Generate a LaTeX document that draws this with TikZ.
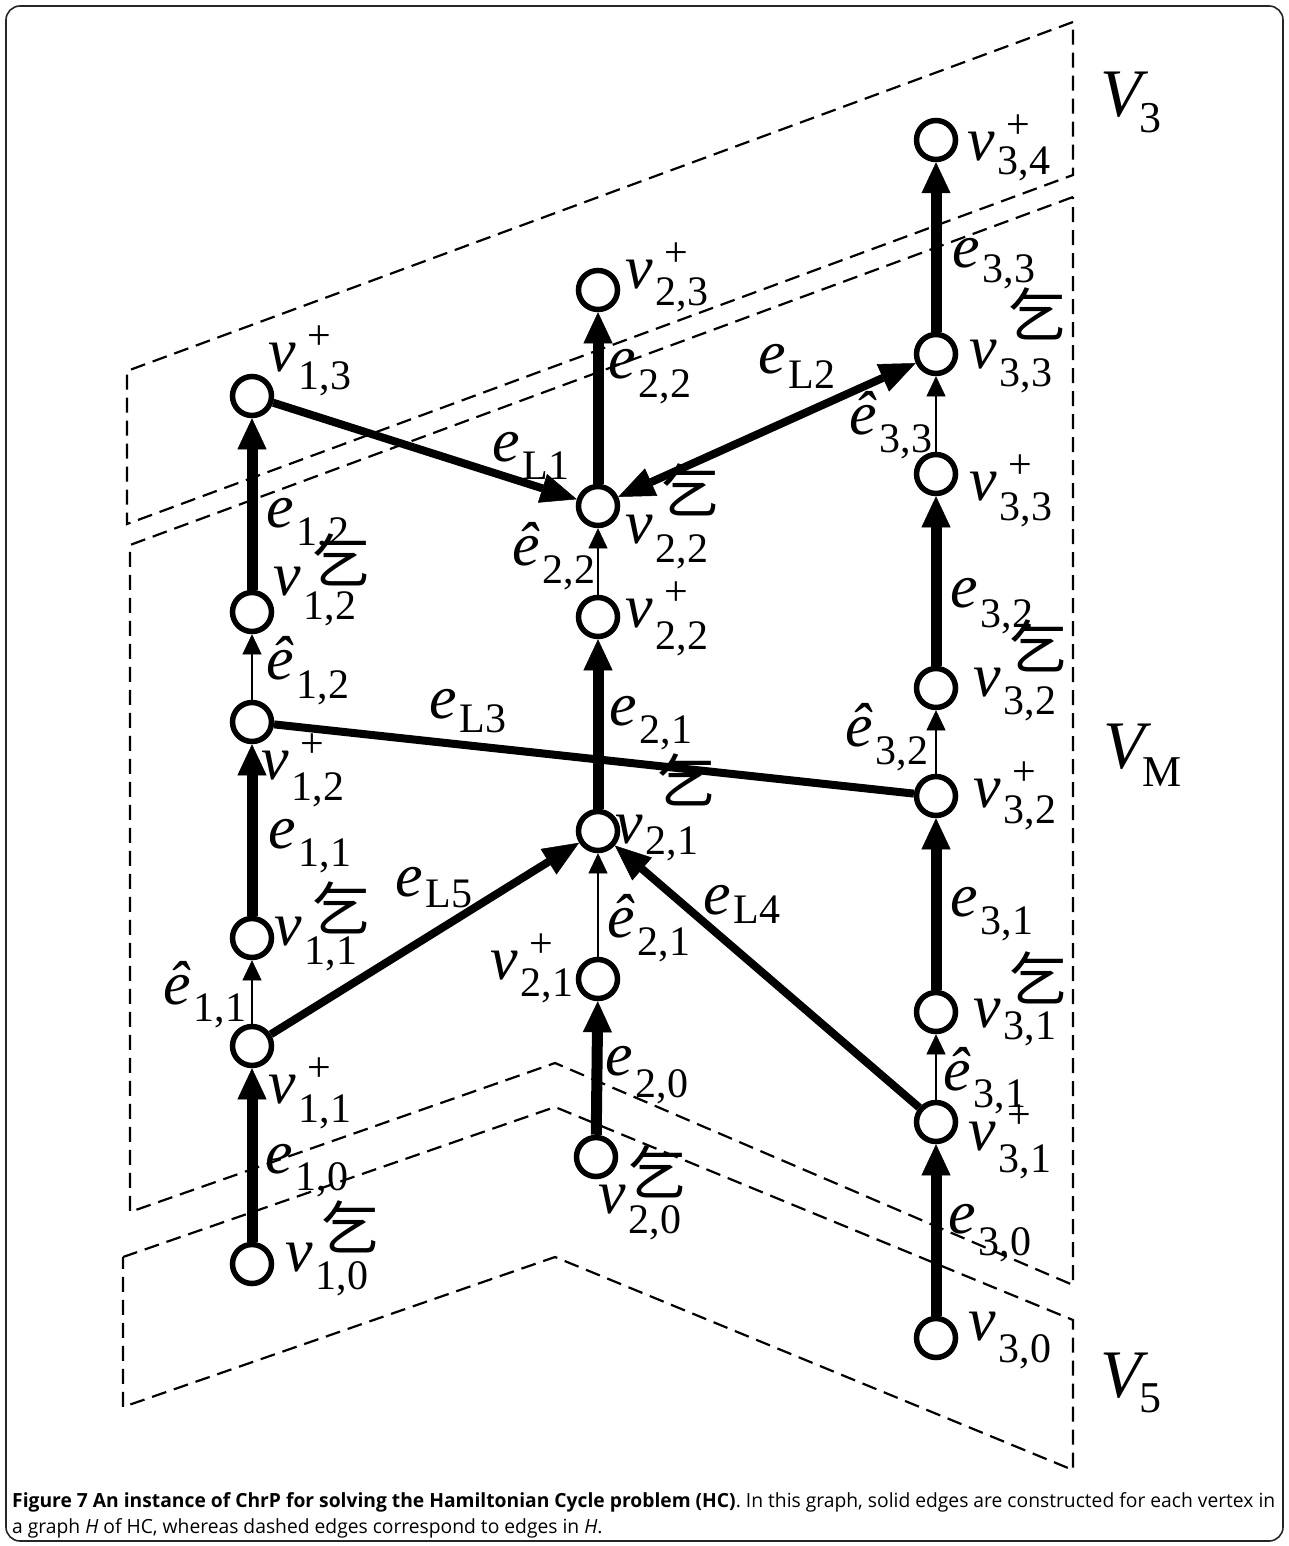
\documentclass[tikz,border=0pt]{standalone}
\usepackage{fontspec}
\usepackage{graphicx}
\setmainfont{Liberation Serif}
\newfontfamily\cjk{Noto Sans CJK SC}
\newfontfamily\capfont{Open Sans}
\usetikzlibrary{arrows.meta}
\newlength\capw
\newcommand\subf{\fontsize{42}{42}\selectfont\upshape}
% \lbl[drop]{letter}{superscript}{subscript}
\newcommand\lbl[4][18pt]{{\itshape #2}\kern3pt\rlap{\kern9pt\raisebox{22pt}{\subf #3}}\raisebox{-#1}{\subf #4}}
\newcommand\setl[2][16pt]{{\itshape V}\kern-2pt\raisebox{-#1}{\fontsize{44}{44}\selectfont #2}}
\newcommand\capA{\textbf{Figure 7 An instance of ChrP for solving the Hamiltonian Cycle problem (HC)}. In this graph, solid edges are constructed for each vertex in}
\newcommand\capB{a graph \textit{H} of HC, whereas dashed edges correspond to edges in \textit{H}.}
\tikzset{
  vert/.style={circle, draw, line width=5.5pt, minimum size=39pt, inner sep=0pt, fill=white},
  thk/.style={line width=11pt, -{Triangle[length=31pt,width=29pt,line width=0.5pt]}},
  thn/.style={line width=2.6pt, -{Triangle[length=20pt,width=19pt,line width=0.5pt]}},
  lnk/.style={line width=8pt},
  lnkar/.style={lnk, -{Triangle[length=36pt,width=30pt,line width=0.5pt]}},
  lnkboth/.style={lnk, {Triangle[length=36pt,width=30pt,line width=0.5pt]}-{Triangle[length=36pt,width=30pt,line width=0.5pt]}},
  plane/.style={line width=2.2pt, dash pattern=on 15pt off 8pt},
  lab/.style={anchor=base west, inner sep=0pt, font=\fontsize{62}{62}\selectfont},
  setlab/.style={anchor=base west, inner sep=0pt, font=\fontsize{68}{68}\selectfont},
  qi/.style={inner sep=0pt, font=\cjk\fontsize{58}{58}\selectfont},
  capt/.style={anchor=base west, inner sep=0pt, font=\capfont\fontsize{19.5}{19.5}\selectfont}
}
\begin{document}
\settowidth{\capw}{\capfont\fontsize{19.5}{19.5}\selectfont\capA}%
\pgfmathsetmacro\capsx{1263/\capw}%
\begin{tikzpicture}[x=1pt,y=-1pt]
\useasboundingbox (0,0) rectangle (1289,1546);
\draw[line width=1.6pt, black!85, rounded corners=14pt] (6,6) rectangle (1283,1541);

% planes
\draw[plane] (1073,22) -- (127,371) -- (127,524) -- (1073,175) -- cycle;
\draw[plane] (1073,197) -- (130,545) -- (130,1212) -- (555,1063) -- (1073,1285) -- cycle;
\draw[plane] (123,1257) -- (555,1107) -- (1073,1320) -- (1073,1470) -- (555,1257) -- (123,1407) -- cycle;

% vertices column 1
\node[vert] (v13p) at (252,396) {};
\node[vert] (v12) at (252,612) {};
\node[vert] (v12p) at (252,722) {};
\node[vert] (v11) at (252,938) {};
\node[vert] (v11p) at (252,1046) {};
\node[vert] (v10) at (252,1264) {};
% column 2
\node[vert] (v23p) at (598,290) {};
\node[vert] (v22) at (598,506) {};
\node[vert] (v22p) at (598,617) {};
\node[vert] (v21) at (598,831) {};
\node[vert] (v21p) at (598,979) {};
\node[vert] (v20) at (596,1157) {};
% column 3
\node[vert] (v34p) at (936,140) {};
\node[vert] (v33) at (936,354) {};
\node[vert] (v33p) at (936,474) {};
\node[vert] (v32) at (936,688) {};
\node[vert] (v32p) at (936,796) {};
\node[vert] (v31) at (936,1012) {};
\node[vert] (v31p) at (936,1122) {};
\node[vert] (v30) at (936,1338) {};

% vertical edges
\draw[thk] (v10) -- (v11p);
\draw[thn] (v11p) -- (v11);
\draw[thk] (v11) -- (v12p);
\draw[thn] (v12p) -- (v12);
\draw[thk] (v12) -- (v13p);
\draw[thk] (v20) -- (v21p);
\draw[thn] (v21p) -- (v21);
\draw[thk] (v21) -- (v22p);
\draw[thn] (v22p) -- (v22);
\draw[thk] (v22) -- (v23p);
\draw[thk] (v30) -- (v31p);
\draw[thn] (v31p) -- (v31);
\draw[thk] (v31) -- (v32p);
\draw[thn] (v32p) -- (v32);
\draw[thk] (v32) -- (v33p);
\draw[thn] (v33p) -- (v33);
\draw[thk] (v33) -- (v34p);

% link edges
\draw[lnkar] (v13p) -- (v22);
\draw[lnkboth] (v22) -- (v33);
\draw[lnk] (v12p) -- (v32p);
\draw[lnkar] (v31p) -- (v21);
\draw[lnkar] (v11p) -- (v21);

% labels column 1
\node[lab] (l13p) at (268,371) {\lbl{v}{+}{1,3}};
\node[lab] (le12) at (266,527) {\lbl{e}{}{1,2}};
\node[lab] (l12) at (273,595) {\lbl[24pt]{v}{}{1,2}};
\node[lab] (lh12) at (266,679) {\lbl[19pt]{ê}{}{1,2}};
\node[lab] (l12p) at (261,779) {\lbl[21pt]{v}{+}{1,2}};
\node[lab] (le11) at (268,848) {\lbl{e}{}{1,1}};
\node[lab] (l11) at (274,945) {\lbl[19pt]{v}{}{1,1}};
\node[lab] (lh11) at (163,1004) {\lbl[17pt]{ê}{}{1,1}};
\node[lab] (l11p) at (268,1103) {\lbl[19pt]{v}{+}{1,1}};
\node[lab] (le10) at (265,1173) {\lbl[17pt]{e}{}{1,0}};
\node[lab] (l10) at (285,1271) {\lbl{v}{}{1,0}};
% labels column 2
\node[lab] (l23p) at (625,288) {\lbl[17pt]{v}{+}{2,3}};
\node[lab] (le22) at (608,378) {\lbl[19pt]{e}{}{2,2}};
\node[lab] (l22) at (625,543) {\lbl[19pt]{v}{}{2,2}};
\node[lab] (lh22) at (512,565) {\lbl{ê}{}{2,2}};
\node[lab] (l22p) at (625,627) {\lbl[22pt]{v}{+}{2,2}};
\node[lab] (le21) at (609,725) {\lbl{e}{}{2,1}};
\node[lab] (l21) at (615,843) {\lbl[11pt]{v}{}{2,1}};
\node[lab] (lh21) at (607,937) {\lbl{ê}{}{2,1}};
\node[lab] (l21p) at (490,979) {\lbl[17pt]{v}{+}{2,1}};
\node[lab] (le20) at (605,1075) {\lbl[22pt]{e}{}{2,0}};
\node[lab] (l20) at (598,1213) {\lbl[20pt]{v}{}{2,0}};
% labels column 3
\node[lab] (l34p) at (967,161) {\lbl[14pt]{v}{+}{3,4}};
\node[lab] (le33) at (952,268) {\lbl[14pt]{e}{}{3,3}};
\node[lab] (l33) at (969,368) {\lbl{v}{}{3,3}};
\node[lab] (lh33) at (849,434) {\lbl{ê}{}{3,3}};
\node[lab] (l33p) at (969,500) {\lbl[20pt]{v}{+}{3,3}};
\node[lab] (le32) at (950,607) {\lbl[20pt]{e}{}{3,2}};
\node[lab] (l32) at (973,696) {\lbl{v}{}{3,2}};
\node[lab] (lh32) at (845,746) {\lbl{ê}{}{3,2}};
\node[lab] (l32p) at (973,807) {\lbl[16pt]{v}{+}{3,2}};
\node[lab] (le31) at (950,916) {\lbl{e}{}{3,1}};
\node[lab] (l31) at (973,1027) {\lbl[12pt]{v}{}{3,1}};
\node[lab] (lh31) at (943,1090) {\lbl[17pt]{ê}{}{3,1}};
\node[lab] (l31p) at (968,1150) {\lbl[22pt]{v}{+}{3,1}};
\node[lab] (le30) at (948,1233) {\lbl[22pt]{e}{}{3,0}};
\node[lab] (l30) at (968,1340) {\lbl[22pt]{v}{}{3,0}};

% broken glyphs
\node[qi] (q12) at (341,560) {乞};
\node[qi] (q11) at (341,908) {乞};
\node[qi] (q10) at (350,1227) {乞};
\node[qi] (q22) at (690,490) {乞};
\node[qi] (q21) at (686,780) {乞};
\node[qi] (q20) at (657,1172) {乞};
\node[qi] (q33) at (1037,314) {乞};
\node[qi] (q32) at (1038,646) {乞};
\node[qi] (q31) at (1038,978) {乞};

% link labels
\node[lab] (leL1) at (492,461) {\lbl{e}{}{L1}};
\node[lab] (leL2) at (758,373) {\lbl[15pt]{e}{}{L2}};
\node[lab] (leL3) at (429,718) {\lbl[14pt]{e}{}{L3}};
\node[lab] (leL4) at (703,914) {\lbl[9pt]{e}{}{L4}};
\node[lab] (leL5) at (395,896) {\lbl[11pt]{e}{}{L5}};

% set labels
\node[setlab] (sV3) at (1100,117) {\setl{3}};
\node[setlab] (sVM) at (1103,768) {\setl[18pt]{M}};
\node[setlab] (sV5) at (1100,1397) {\setl[15pt]{5}};

% caption
\node[capt] (cap1) at (12,1507) {\scalebox{\capsx}[1]{\capA}};
\node[capt] (cap2) at (12,1533) {\scalebox{\capsx}[1]{\capB}};
\end{tikzpicture}
\end{document}
